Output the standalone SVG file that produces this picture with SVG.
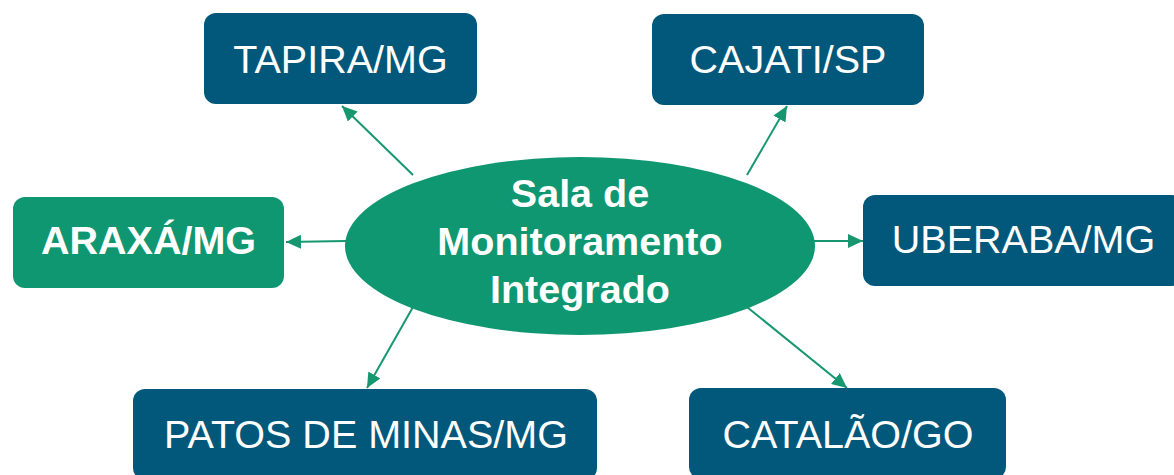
<svg xmlns="http://www.w3.org/2000/svg" width="1174" height="475" viewBox="0 0 1174 475">
<style>
.box{fill:#02587a}
.gbox{fill:#0f9771}
.t{font-family:"Liberation Sans",Arial,sans-serif;font-size:39.5px;fill:#ffffff;text-anchor:middle}
.b{font-weight:bold}
.c{stroke:#16976f;stroke-width:2;fill:none;marker-end:url(#ah)}
</style>
<defs>
<marker id="ah" markerUnits="userSpaceOnUse" markerWidth="16" markerHeight="14" refX="15" refY="7" orient="auto">
<path d="M0,0 L15,7 L0,14 Z" fill="#16976f"/>
</marker>
</defs>
<rect width="1174" height="475" fill="#ffffff"/>
<g id="connectors">
<line class="c" x1="413" y1="175" x2="342" y2="106"/>
<line class="c" x1="747" y1="175" x2="787" y2="106"/>
<line class="c" x1="346" y1="241" x2="286" y2="242"/>
<line class="c" x1="814" y1="241" x2="863" y2="241"/>
<line class="c" x1="413" y1="307" x2="367" y2="388"/>
<line class="c" x1="747" y1="307" x2="847" y2="388"/>
</g>
<g id="center">
<ellipse cx="580" cy="246" rx="235" ry="89" fill="#0f9771"/>
<text class="t b" x="580" y="207">Sala de</text>
<text class="t b" x="580" y="255">Monitoramento</text>
<text class="t b" x="580" y="303">Integrado</text>
</g>
<g id="tapira">
<rect class="box" x="204" y="13" width="273" height="91" rx="12"/>
<text class="t" x="340.5" y="73">TAPIRA/MG</text>
</g>
<g id="cajati">
<rect class="box" x="652" y="14" width="272" height="91" rx="12"/>
<text class="t" x="788" y="73">CAJATI/SP</text>
</g>
<g id="araxa">
<rect class="gbox" x="13" y="197" width="271" height="91" rx="12"/>
<text class="t b" x="148.5" y="254">ARAXÁ/MG</text>
</g>
<g id="uberaba">
<rect class="box" x="863" y="195" width="321" height="91" rx="12"/>
<text class="t" x="1023.5" y="253">UBERABA/MG</text>
</g>
<g id="patos">
<rect class="box" x="133" y="389" width="464" height="91" rx="12"/>
<text class="t" x="366" y="448">PATOS DE MINAS/MG</text>
</g>
<g id="catalao">
<rect class="box" x="689" y="388" width="317" height="91" rx="12"/>
<text class="t" x="848" y="448">CATALÃO/GO</text>
</g>
</svg>
